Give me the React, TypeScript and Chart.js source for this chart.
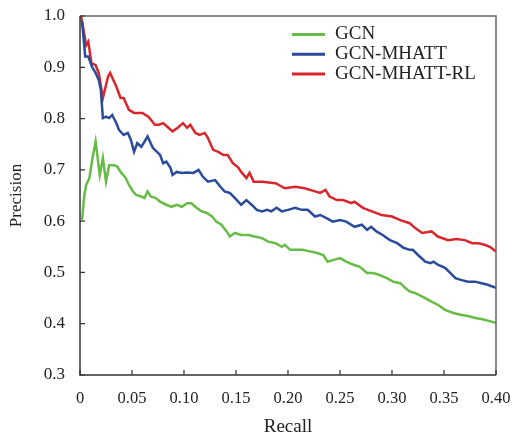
import React, { useEffect, useRef } from "react";
import { Chart, registerables } from "chart.js";

Chart.register(...registerables);

const seriesLabels = ["GCN", "GCN-MHATT", "GCN-MHATT-RL"];
const seriesColors = ["#66bc47", "#2a4b9b", "#d7272c"];

const xTicks = [0, 0.05, 0.1, 0.15, 0.2, 0.25, 0.3, 0.35, 0.4];
const xTickLabels = ["0", "0.05", "0.10", "0.15", "0.20", "0.25", "0.30", "0.35", "0.40"];
const yTicks = [0.3, 0.4, 0.5, 0.6, 0.7, 0.8, 0.9, 1.0];

const greenRecall = [0.002,0.004,0.006,0.009,0.012,0.015,0.019,0.022,0.025,0.028,0.033,0.036,0.039,0.044,0.047,0.051,0.054,0.059,0.062,0.065,0.068,0.073,0.077,0.083,0.088,0.093,0.098,0.103,0.107,0.112,0.117,0.122,0.127,0.131,0.136,0.141,0.144,0.149,0.155,0.162,0.168,0.175,0.181,0.188,0.194,0.197,0.202,0.208,0.214,0.221,0.228,0.234,0.238,0.243,0.25,0.256,0.263,0.269,0.276,0.282,0.288,0.295,0.301,0.308,0.3125,0.317,0.322,0.332,0.338,0.344,0.351,0.359,0.367,0.373,0.38,0.386,0.392,0.4];
const greenPrecision = [0.602,0.648,0.671,0.684,0.723,0.755,0.69,0.723,0.677,0.709,0.709,0.706,0.696,0.684,0.671,0.658,0.651,0.648,0.645,0.658,0.648,0.645,0.638,0.632,0.628,0.632,0.628,0.635,0.635,0.626,0.619,0.616,0.609,0.599,0.593,0.58,0.57,0.577,0.573,0.573,0.57,0.567,0.56,0.557,0.55,0.554,0.544,0.544,0.544,0.541,0.538,0.534,0.521,0.524,0.528,0.521,0.515,0.511,0.499,0.499,0.495,0.489,0.482,0.479,0.47,0.463,0.46,0.45,0.443,0.437,0.427,0.421,0.417,0.415,0.411,0.409,0.406,0.402];

const blueRecall = [0.002,0.005,0.008,0.0115,0.015,0.018,0.02,0.022,0.025,0.028,0.031,0.035,0.0375,0.042,0.046,0.049,0.052,0.055,0.059,0.065,0.07,0.074,0.077,0.08,0.083,0.087,0.089,0.093,0.098,0.103,0.109,0.114,0.118,0.123,0.13,0.135,0.139,0.144,0.149,0.155,0.16,0.165,0.17,0.175,0.18,0.184,0.189,0.194,0.2,0.207,0.213,0.219,0.226,0.231,0.237,0.243,0.25,0.256,0.264,0.271,0.276,0.28,0.285,0.291,0.298,0.305,0.311,0.317,0.32,0.325,0.332,0.337,0.34,0.344,0.351,0.356,0.361,0.367,0.373,0.38,0.386,0.392,0.4];
const bluePrecision = [0.99,0.921,0.921,0.901,0.889,0.875,0.856,0.801,0.804,0.801,0.807,0.791,0.778,0.768,0.772,0.758,0.735,0.752,0.745,0.765,0.743,0.735,0.729,0.713,0.716,0.704,0.69,0.696,0.694,0.695,0.694,0.7,0.687,0.677,0.68,0.667,0.658,0.655,0.645,0.632,0.641,0.632,0.622,0.619,0.622,0.619,0.626,0.619,0.622,0.626,0.622,0.622,0.609,0.612,0.606,0.599,0.602,0.599,0.589,0.593,0.583,0.589,0.58,0.573,0.563,0.557,0.548,0.544,0.544,0.534,0.521,0.518,0.521,0.515,0.509,0.499,0.489,0.485,0.482,0.482,0.479,0.476,0.47];

const redRecall = [0.001,0.006,0.008,0.011,0.015,0.018,0.022,0.027,0.029,0.035,0.039,0.042,0.047,0.052,0.06,0.066,0.072,0.076,0.08,0.085,0.089,0.094,0.099,0.103,0.106,0.111,0.115,0.12,0.123,0.128,0.133,0.138,0.142,0.147,0.152,0.155,0.16,0.163,0.167,0.175,0.188,0.197,0.207,0.216,0.226,0.231,0.236,0.24,0.247,0.253,0.261,0.264,0.272,0.282,0.29,0.3,0.308,0.317,0.322,0.329,0.338,0.344,0.354,0.362,0.37,0.377,0.383,0.389,0.394,0.4];
const redPrecision = [1.0,0.943,0.95,0.908,0.904,0.889,0.84,0.882,0.889,0.862,0.84,0.84,0.817,0.811,0.811,0.803,0.788,0.788,0.791,0.782,0.775,0.782,0.791,0.782,0.788,0.772,0.768,0.772,0.762,0.739,0.735,0.729,0.729,0.713,0.705,0.696,0.684,0.694,0.677,0.677,0.674,0.664,0.667,0.664,0.658,0.655,0.661,0.648,0.641,0.641,0.635,0.638,0.626,0.618,0.612,0.609,0.602,0.596,0.587,0.577,0.58,0.57,0.563,0.565,0.563,0.557,0.557,0.554,0.55,0.541];

const FONT = "'Liberation Serif', 'Times New Roman', serif";

const toPoints = (xs: number[], ys: number[]) => xs.map((x, i) => ({ x, y: ys[i] }));

const framePlugin = {
  id: "frame",
  afterDatasetsDraw(chart: any) {
    const { ctx, chartArea } = chart;
    const { left, right, top, bottom } = chartArea;
    const xs = chart.scales.x;
    const ys = chart.scales.y;
    ctx.save();
    ctx.lineWidth = 1.5;
    ctx.strokeStyle = "#666";
    ctx.beginPath();
    ctx.moveTo(left, top);
    ctx.lineTo(right, top);
    ctx.lineTo(right, bottom);
    ctx.stroke();
    ctx.strokeStyle = "#333";
    ctx.beginPath();
    ctx.moveTo(left, top);
    ctx.lineTo(left, bottom);
    ctx.lineTo(right, bottom);
    ctx.stroke();
    ctx.lineWidth = 1.2;
    ctx.beginPath();
    xTicks.forEach((v) => {
      const px = xs.getPixelForValue(v);
      ctx.moveTo(px, bottom);
      ctx.lineTo(px, bottom - 5);
    });
    yTicks.forEach((v) => {
      const py = ys.getPixelForValue(v);
      ctx.moveTo(left, py);
      ctx.lineTo(left + 5, py);
    });
    ctx.stroke();
    ctx.restore();
  },
};

const legendPlugin = {
  id: "insideLegend",
  afterDraw(chart: any) {
    const { ctx, chartArea } = chart;
    const x0 = chartArea.left + 212;
    const y0 = chartArea.top + 17.5;
    ctx.save();
    ctx.font = `19px ${FONT}`;
    ctx.textBaseline = "middle";
    chart.data.datasets.forEach((ds: any, i: number) => {
      const y = y0 + i * 19.8;
      ctx.strokeStyle = ds.borderColor;
      ctx.lineWidth = 3;
      ctx.beginPath();
      ctx.moveTo(x0, y + 1);
      ctx.lineTo(x0 + 33, y + 1);
      ctx.stroke();
      ctx.fillStyle = "#222";
      ctx.fillText(ds.label, x0 + 43, y + 1);
    });
    ctx.restore();
  },
};

export default function App() {
  const ref = useRef<HTMLCanvasElement | null>(null);
  useEffect(() => {
    if (!ref.current) return;
    const recalls = [greenRecall, blueRecall, redRecall];
    const precisions = [greenPrecision, bluePrecision, redPrecision];
    const chart = new Chart(ref.current, {
      type: "line",
      data: {
        datasets: seriesLabels.map((label, i) => ({
          label,
          data: toPoints(recalls[i], precisions[i]),
          borderColor: seriesColors[i],
          backgroundColor: seriesColors[i],
          borderWidth: 2.5,
          pointRadius: 0,
          tension: 0,
          fill: false,
        })),
      },
      options: {
        animation: false,
        responsive: true,
        maintainAspectRatio: false,
        layout: { padding: { left: 0, right: 17, top: 16, bottom: 0 } },
        plugins: { legend: { display: false }, tooltip: { enabled: false } },
        scales: {
          x: {
            type: "linear",
            min: 0,
            max: 0.4,
            afterBuildTicks: (s: any) => {
              s.ticks = xTicks.map((v) => ({ value: v }));
            },
            afterFit: (s: any) => {
              s.height = 61;
              s.paddingLeft = 0;
              s.paddingRight = 0;
            },
            grid: { display: false, drawTicks: false },
            border: { display: false },
            ticks: {
              padding: 14,
              color: "#222",
              font: { family: FONT, size: 16.5 },
              maxRotation: 0,
              autoSkip: false,
              callback: (v: any) => {
                const idx = xTicks.findIndex((t) => Math.abs(t - Number(v)) < 1e-9);
                return idx >= 0 ? xTickLabels[idx] : "";
              },
            },
            title: {
              display: true,
              text: "Recall",
              color: "#222",
              font: { family: FONT, size: 19, lineHeight: 1 },
              padding: { top: 0, bottom: -1 },
            },
          },
          y: {
            type: "linear",
            min: 0.3,
            max: 1.0,
            afterBuildTicks: (s: any) => {
              s.ticks = yTicks.map((v) => ({ value: v }));
            },
            afterFit: (s: any) => {
              s.width = 80;
              s.paddingTop = 0;
              s.paddingBottom = 0;
            },
            grid: { display: false, drawTicks: false },
            border: { display: false },
            ticks: {
              padding: 15,
              color: "#222",
              font: { family: FONT, size: 17 },
              callback: (v: any) => Number(v).toFixed(1),
            },
            title: {
              display: true,
              text: "Precision",
              color: "#222",
              font: { family: FONT, size: 17 },
              padding: { top: 6, bottom: 0 },
            },
          },
        },
      },
      plugins: [framePlugin, legendPlugin],
    });
    return () => chart.destroy();
  }, []);
  return (
    <div style={{ position: "fixed", left: 0, top: 0, width: 513, height: 436, background: "#fff" }}>
      <canvas ref={ref} />
    </div>
  );
}
